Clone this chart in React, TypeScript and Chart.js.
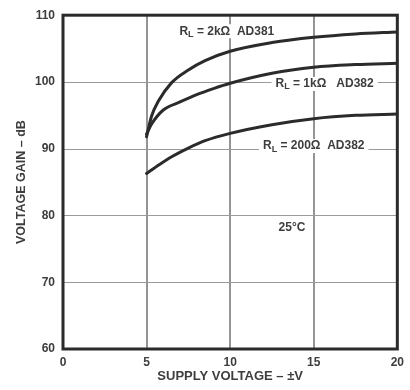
import { useEffect, useRef } from "react";
import { Chart, registerables } from "chart.js";

Chart.register(...registerables);

// ---- data ----
const supplyVoltage2k = [5, 5.3, 5.7, 6.5, 7.5, 8.5, 10, 12.5, 15, 17.5, 20];
const gain2k = [91.8, 94.9, 97.1, 99.9, 101.8, 103.2, 104.6, 105.9, 106.7, 107.2, 107.5];

const supplyVoltage1k = [5, 5.3, 6, 7, 8, 9, 10, 12.5, 15, 17.5, 20];
const gain1k = [92.2, 93.7, 95.8, 97.0, 98.1, 99.0, 99.8, 101.3, 102.2, 102.6, 102.8];

const supplyVoltage200 = [5, 5.75, 6.5, 7.5, 8.5, 10, 12.5, 15, 17.5, 20];
const gain200 = [86.3, 87.6, 88.8, 90.1, 91.2, 92.3, 93.6, 94.5, 95.0, 95.2];

const xTicks = [0, 5, 10, 15, 20];
const yTicks = [60, 70, 80, 90, 100, 110];

const curveLabels = ["R|L| = 2kΩ  AD381", "R|L| = 1kΩ   AD382", "R|L| = 200Ω  AD382", "25°C"];
const labelX = [9.8, 15.65, 15.0, 13.7];
const labelY = [107.6, 99.7, 90.4, 78.1];

const xTitle = "SUPPLY VOLTAGE – ±V";
const yTitle = "VOLTAGE GAIN – dB";

// ---- styles ----
const INK = "#2b2b2b";
const TEXT = "#3d3d3d";
const VGRID = "#707070";
const HGRID = "#9a9a9a";
const FONT = "Liberation Sans";

const toPoints = (xs: number[], ys: number[]) => xs.map((x, i) => ({ x, y: ys[i] }));

const labelPlugin = {
  id: "curveLabels",
  beforeDatasetsDraw(chart: any) {
    const ctx = chart.ctx;
    const xs = chart.scales.x;
    const ys = chart.scales.y;
    const area = chart.chartArea;
    ctx.save();
    ctx.setLineDash([]);
    ctx.strokeStyle = VGRID;
    ctx.lineWidth = 1.5;
    for (const t of xs.ticks) {
      const px = Math.round(xs.getPixelForValue(t.value));
      ctx.beginPath();
      ctx.moveTo(px, area.top);
      ctx.lineTo(px, area.bottom);
      ctx.stroke();
    }
    ctx.strokeStyle = HGRID;
    ctx.lineWidth = 1.2;
    for (const t of ys.ticks) {
      const py = Math.round(ys.getPixelForValue(t.value)) + 0.5;
      ctx.beginPath();
      ctx.moveTo(area.left, py);
      ctx.lineTo(area.right, py);
      ctx.stroke();
    }
    curveLabels.forEach((lab, i) => {
      const parts = lab.split("|");
      const cx = xs.getPixelForValue(labelX[i]);
      const cy = ys.getPixelForValue(labelY[i]);
      const big = `bold 12px "${FONT}"`;
      const small = `bold 9px "${FONT}"`;
      const segs: { t: string; f: string; dy: number }[] = [];
      if (parts.length === 3) {
        segs.push({ t: parts[0], f: big, dy: 0 });
        segs.push({ t: parts[1], f: small, dy: 3 });
        segs.push({ t: parts[2], f: big, dy: 0 });
      } else {
        segs.push({ t: lab, f: big, dy: 0 });
      }
      let total = 0;
      const widths = segs.map((s) => {
        ctx.font = s.f;
        const w = ctx.measureText(s.t).width;
        total += w;
        return w;
      });
      let left = cx - total / 2;
      ctx.fillStyle = "#ffffff";
      ctx.fillRect(left - 4, cy - 7, total + 8, 14);
      ctx.fillStyle = TEXT;
      ctx.textBaseline = "middle";
      ctx.textAlign = "left";
      segs.forEach((s, j) => {
        ctx.font = s.f;
        ctx.fillText(s.t, left, cy + s.dy);
        left += widths[j];
      });
    });
    ctx.restore();
  },
  afterDatasetsDraw(chart: any) {
    const { ctx, chartArea } = chart;
    ctx.save();
    ctx.strokeStyle = INK;
    ctx.lineWidth = 3;
    ctx.strokeRect(chartArea.left, chartArea.top, chartArea.right - chartArea.left, chartArea.bottom - chartArea.top);
    ctx.restore();
  },
};

export default function App() {
  const ref = useRef<HTMLCanvasElement | null>(null);
  useEffect(() => {
    if (!ref.current) return;
    const lineStyle = {
      borderColor: INK,
      borderWidth: 3,
      pointRadius: 0,
      fill: false,
      cubicInterpolationMode: "monotone" as const,
      borderCapStyle: "round" as const,
    };
    const chart = new Chart(ref.current, {
      type: "line",
      data: {
        datasets: [
          { label: "2k", data: toPoints(supplyVoltage2k, gain2k), ...lineStyle },
          { label: "1k", data: toPoints(supplyVoltage1k, gain1k), ...lineStyle },
          { label: "200", data: toPoints(supplyVoltage200, gain200), ...lineStyle },
        ],
      },
      options: {
        animation: false,
        responsive: false,
        devicePixelRatio: 1,
        layout: { padding: { left: 10, right: 7, top: 14, bottom: 0 } },
        plugins: { legend: { display: false }, tooltip: { enabled: false } },
        scales: {
          x: {
            type: "linear",
            min: xTicks[0],
            max: xTicks[xTicks.length - 1],
            afterBuildTicks: (s: any) => {
              s.ticks = xTicks.map((v) => ({ value: v }));
            },
            afterFit: (s: any) => {
              s.height = 41;
            },
            grid: { display: false, drawTicks: false },
            border: { display: false },
            ticks: {
              padding: 6,
              color: TEXT,
              font: { family: FONT, size: 12, weight: "bold" },
              maxRotation: 0,
            },
            title: {
              display: true,
              text: xTitle,
              color: TEXT,
              font: { family: FONT, size: 13, weight: "bold" },
              padding: { top: 0, bottom: 6 },
            },
          },
          y: {
            type: "linear",
            min: yTicks[0],
            max: yTicks[yTicks.length - 1],
            afterBuildTicks: (s: any) => {
              s.ticks = yTicks.map((v) => ({ value: v }));
            },
            afterFit: (s: any) => {
              s.width = 53;
            },
            grid: { display: false, drawTicks: false },
            border: { display: false },
            ticks: {
              padding: 8,
              color: TEXT,
              font: { family: FONT, size: 12, weight: "bold" },
            },
            title: {
              display: true,
              text: yTitle,
              color: TEXT,
              font: { family: FONT, size: 12.5, weight: "bold" },
              padding: { top: 4, bottom: 0 },
            },
          },
        },
      },
      plugins: [labelPlugin],
    });
    return () => chart.destroy();
  }, []);
  return (
    <div style={{ position: "absolute", left: 0, top: 0, width: 410, height: 390, background: "#fff" }}>
      <canvas ref={ref} width={410} height={390} style={{ display: "block" }} />
    </div>
  );
}
